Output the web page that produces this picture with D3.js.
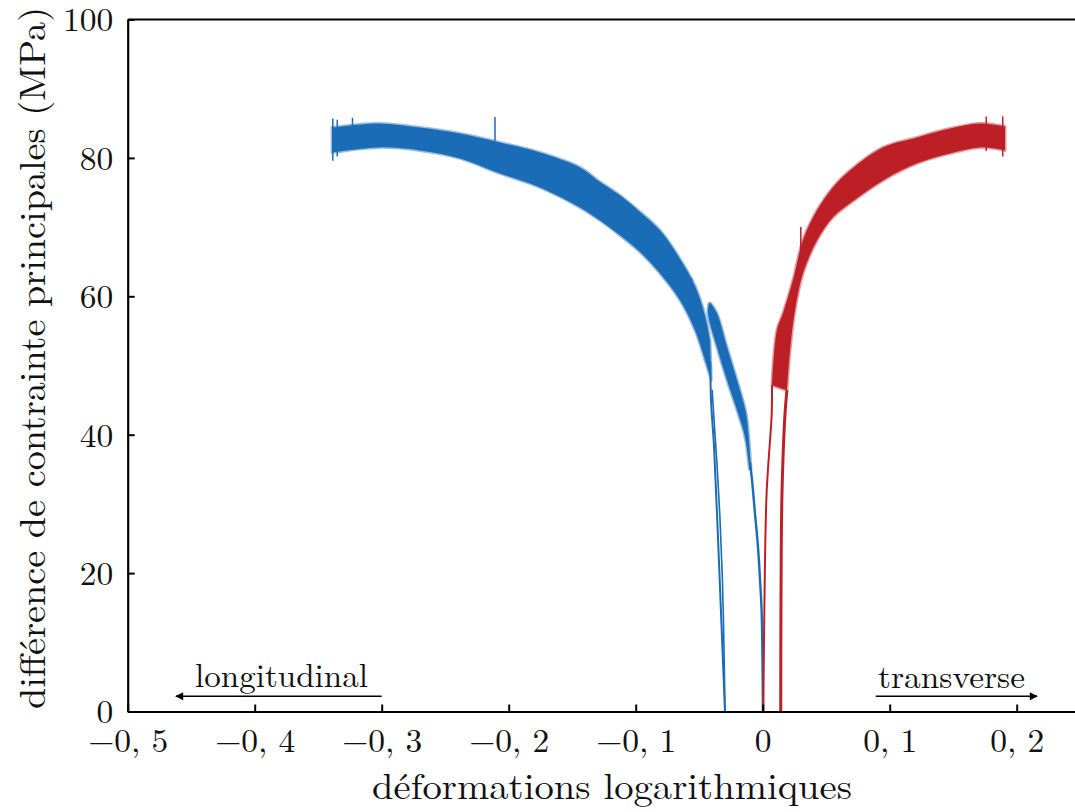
<!DOCTYPE html>
<html><head><meta charset="utf-8">
<script src="https://cdn.jsdelivr.net/npm/d3@7"></script>
<style>
html,body{margin:0;padding:0;background:#fff;}
svg{display:block;}
</style></head>
<body>
<svg id="chart" width="1075" height="812"></svg>
<script>
// ---- data (strain, MPa) ----
const xTicks = [-0.5,-0.4,-0.3,-0.2,-0.1,0,0.1,0.2];
const xTickLabels = ["\u22120, 5","\u22120, 4","\u22120, 3","\u22120, 2","\u22120, 1","0","0, 1","0, 2"];
const yTicks = [0,20,40,60,80,100];
const yTickLabels = ["0","20","40","60","80","100"];

// longitudinal (blue) main noisy band: upper and lower envelopes
const blueUpper = [[-0.3391,84.4],[-0.3171,84.84],[-0.3014,84.98],[-0.2698,84.4],[-0.2383,83.54],[-0.2069,82.24],
  [-0.1754,80.79],[-0.1439,78.63],[-0.1281,76.53],[-0.1124,74.59],[-0.0966,72.2],[-0.0809,69.53],
  [-0.0651,65.4],[-0.0533,61.5],[-0.0454,57.2],[-0.0415,53.65]];
const blueLower = [[-0.3391,80.79],[-0.3014,81.52],[-0.2698,81.08],[-0.2383,79.93],[-0.2069,77.76],[-0.1754,75.74],
  [-0.1439,72.85],[-0.1281,70.97],[-0.1124,68.81],[-0.0966,66.4],[-0.0809,63.32],[-0.0651,59.42],
  [-0.0533,55.09],[-0.0454,50.76],[-0.0405,47.87]];
// blue steep branch (left) going to zero
const blueThinA = [[-0.0412,50.5],[-0.0407,45.0],[-0.0383,38.2],[-0.0360,28.7],[-0.0328,14.2],[-0.0297,0]];
const blueThinB = [[-0.0398,46.5],[-0.0383,42.1],[-0.0360,35.8],[-0.0336,27.7],[-0.0317,19.0],[-0.0305,9.3],[-0.0297,0]];
// blue second branch (right) band edges, top to bottom
const blueBranchLeft = [[-0.0423,58.99],[-0.0431,57.54],[-0.0360,52.63],[-0.0281,47.87],[-0.0194,43.10],[-0.0139,39.64],[-0.0105,35.0]];
const blueBranchRight = [[-0.0409,58.99],[-0.0360,57.54],[-0.0281,52.63],[-0.0202,47.87],[-0.0131,43.10],[-0.0110,39.64],[-0.0092,35.0]];
const blueThinC = [[-0.0100,36.0],[-0.0084,33.43],[-0.0061,28.66],[-0.0037,23.75],[-0.0021,18.99],[-0.0008,14.22],[0.0002,0]];
const blueSpikes = [[-0.3385,85.7,79.6],[-0.3350,85.5,80.2],[-0.3230,85.8,83],[-0.2108,85.9,82.4],[-0.0560,62.6,58]];

// transverse (red) noisy band: upper/left edge and lower/right edge
const redUpper = [[0.0073,47.15],[0.0112,55.09],[0.0160,57.54],[0.0238,62.31],[0.0317,68.09],[0.0428,72.42],
  [0.0553,75.74],[0.0687,78.19],[0.0947,81.52],[0.1215,82.96],[0.1475,84.26],[0.1711,84.98],[0.1908,84.55]];
const redLower = [[0.0191,46.43],[0.0215,52.2],[0.0254,57.98],[0.0317,63.32],[0.0428,68.09],[0.0553,71.41],
  [0.0687,73.43],[0.0947,76.75],[0.1215,79.21],[0.1475,80.65],[0.1711,81.52],[0.1908,81.08]];
const redThinLeft = [[0.0073,47.15],[0.0071,43.1],[0.0031,31.6],[0.0014,16.1],[0.0005,0]];
const redThinRight = [[0.0191,46.43],[0.0176,43.1],[0.0152,31.6],[0.0144,16.1],[0.0142,0]];
const redSpikes = [[0.0190,59.0,52.0],[0.1890,86.0,80.2],[0.1760,86.0,81.0],[0.0300,70,66]];

// annotations
const arrowLong = [[-0.3,2.2],[-0.462,2.2]];
const arrowTrans = [[0.089,2.2],[0.216,2.2]];

// ---- drawing ----
const FONT = "'Latin Modern Roman','Liberation Serif',serif";
const svg = d3.select("#chart");
const x = d3.scaleLinear().domain([-0.5,0.25]).range([127.7,127.7+0.75*1270]);
const y = d3.scaleLinear().domain([0,100]).range([711.5,19.5]);
const blue = "#1a6cb7", red = "#bd1f27";

const smooth = d3.line().curve(d3.curveCatmullRom).x(d=>x(d[0])).y(d=>y(d[1]));

function band(upper, lower, color){
  const d = smooth(upper) + "L" + smooth(lower.slice().reverse()).slice(1) + "Z";
  svg.append("path").attr("d", d)
    .attr("fill", color).attr("stroke", color).attr("stroke-width",3)
    .attr("stroke-linejoin","round").attr("stroke-opacity",0.45);
}
function thin(pts, color, w){
  svg.append("path").attr("d", smooth(pts))
    .attr("fill","none").attr("stroke",color).attr("stroke-width",w);
}
function spikes(arr, color){
  svg.selectAll(null).data(arr).enter().append("line")
    .attr("x1",d=>x(d[0])).attr("x2",d=>x(d[0])).attr("y1",d=>y(d[1])).attr("y2",d=>y(d[2]))
    .attr("stroke",color).attr("stroke-width",1.5);
}

band(blueUpper, blueLower, blue);
band(blueBranchLeft, blueBranchRight, blue);
thin(blueThinA, blue, 2);
thin(blueThinB, blue, 1.6);
thin(blueThinC, blue, 2.4);
spikes(blueSpikes, blue);

band(redUpper, redLower, red);
thin(redThinLeft, red, 2);
thin(redThinRight, red, 3);
spikes(redSpikes, red);

// axes
const xAxis = d3.axisBottom(x).tickValues(xTicks).tickSizeInner(-7).tickSizeOuter(0)
  .tickFormat((d,i)=>xTickLabels[i]);
const gx = svg.append("g").attr("transform",`translate(0,${y(0)})`).call(xAxis);
gx.selectAll("text").attr("y",40).attr("dy",null);
const yAxis = d3.axisLeft(y).tickValues(yTicks).tickSizeInner(-7).tickSizeOuter(0)
  .tickFormat((d,i)=>yTickLabels[i]);
const gy = svg.append("g").attr("transform",`translate(${x(-0.5)},0)`).call(yAxis);
gy.selectAll("text").attr("x",-14.5).attr("dy","0.34em");
[gx,gy].forEach(g=>{
  g.attr("font-family",FONT).attr("font-size",33.5);
  g.selectAll("text").attr("fill","#111");
  g.select(".domain").attr("stroke","#000").attr("stroke-width",2.2);
  g.selectAll(".tick line").attr("stroke","#000").attr("stroke-width",2);
});
// top and right frame lines
svg.append("line").attr("x1",x(-0.5)).attr("x2",x(0.25)).attr("y1",y(100)).attr("y2",y(100))
  .attr("stroke","#000").attr("stroke-width",2.2);
svg.append("line").attr("x1",x(0.25)).attr("x2",x(0.25)).attr("y1",y(100)).attr("y2",y(0))
  .attr("stroke","#000").attr("stroke-width",2.2);

// axis titles
svg.append("text").attr("x",612).attr("y",799).attr("text-anchor","middle")
  .attr("font-family",FONT).attr("font-size",36.5).attr("fill","#111")
  .attr("textLength",480).attr("lengthAdjust","spacingAndGlyphs")
  .text("déformations logarithmiques");
svg.append("text").attr("transform","translate(45,358) rotate(-90)").attr("text-anchor","middle")
  .attr("font-family",FONT).attr("font-size",36.5).attr("fill","#111")
  .attr("textLength",702).attr("lengthAdjust","spacingAndGlyphs")
  .text("différence de contrainte principales (MPa)");

// direction arrows
const defs = svg.append("defs");
defs.append("marker").attr("id","ah").attr("viewBox","0 0 10 10").attr("refX",9).attr("refY",5)
  .attr("markerWidth",10).attr("markerHeight",8).attr("markerUnits","userSpaceOnUse").attr("orient","auto")
  .append("path").attr("d","M0,0 L10,5 L0,10 Z").attr("fill","#000");
[arrowLong, arrowTrans].forEach(a=>{
  svg.append("line").attr("x1",x(a[0][0])).attr("y1",y(a[0][1])).attr("x2",x(a[1][0])).attr("y2",y(a[1][1]))
    .attr("stroke","#000").attr("stroke-width",1.6).attr("marker-end","url(#ah)");
});
svg.append("text").attr("x",195).attr("y",687).attr("font-family",FONT).attr("font-size",33).attr("fill","#111")
  .attr("textLength",173).attr("lengthAdjust","spacingAndGlyphs").text("longitudinal");
svg.append("text").attr("x",878).attr("y",688).attr("font-family",FONT).attr("font-size",33).attr("fill","#111")
  .attr("textLength",147).attr("lengthAdjust","spacingAndGlyphs").text("transverse");
</script>
</body></html>
